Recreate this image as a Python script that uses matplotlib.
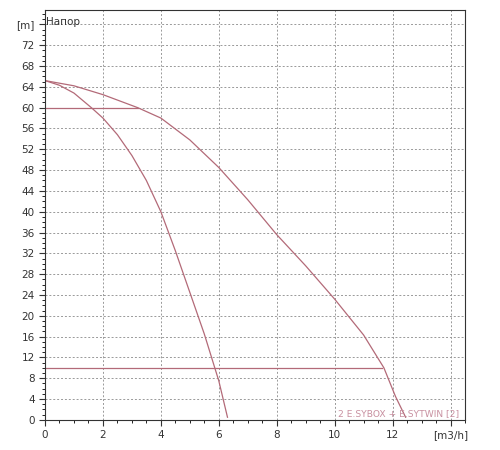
import matplotlib
matplotlib.use("Agg")
import matplotlib.pyplot as plt
from matplotlib.ticker import MultipleLocator

# single pump curve
q1 = [0, 0.5, 1.0, 1.6, 2.0, 2.5, 3.0, 3.5, 4.0, 4.5, 5.0, 5.5, 6.0, 6.3]
h1 = [65.2, 64.3, 62.8, 60.0, 58.0, 54.8, 50.8, 46.0, 40.0, 32.5, 24.5, 16.5, 7.5, 0.5]
# two pumps curve
q2 = [0, 1, 2, 3.2, 4, 5, 6, 7, 8, 9, 10, 11, 11.7, 12.1, 12.45]
h2 = [65.2, 64.2, 62.5, 60.0, 58.0, 53.8, 48.5, 42.3, 35.6, 29.6, 23.2, 16.3, 10.0, 4.5, 0.5]
# operating limits
h_lines = [60, 10]
q_ends = [3.2, 11.65]

col = "#b36a78"
fig = plt.figure(figsize=(5, 4.5), dpi=100)
ax = fig.add_axes([0.09, 0.067, 0.84, 0.91])
ax.plot(q1, h1, color=col, lw=0.9)
ax.plot(q2, h2, color=col, lw=0.9)
for h, q in zip(h_lines, q_ends):
    ax.plot([0, q], [h, h], color=col, lw=0.9)

ax.set_xlim(0, 14.5)
ax.set_ylim(0, 78.7)
ax.set_xticks(range(0, 15, 2))
ax.set_xticklabels([str(v) for v in range(0, 13, 2)] + ["[m3/h]"])
ax.set_yticks(range(0, 77, 4))
ax.set_yticklabels([str(v) for v in range(0, 73, 4)] + ["[m]"])
ax.xaxis.set_minor_locator(MultipleLocator(0.5))
ax.yaxis.set_minor_locator(MultipleLocator(1))
ax.tick_params(labelsize=7.5, colors="#333333", length=4)
ax.tick_params(which="minor", length=2)
ax.grid(True, which="major", color="#999999", ls=(0, (2, 2)), lw=0.7)
for s in ax.spines.values():
    s.set_color("#333333")
ax.text(0.05, 77.5, "Напор", fontsize=7.5, va="top", color="#333333")
ax.text(10.1, 0.7, "2 E.SYBOX + E.SYTWIN [2]", fontsize=6.6, color="#c890a0")
fig.savefig("out.png", dpi=100)
